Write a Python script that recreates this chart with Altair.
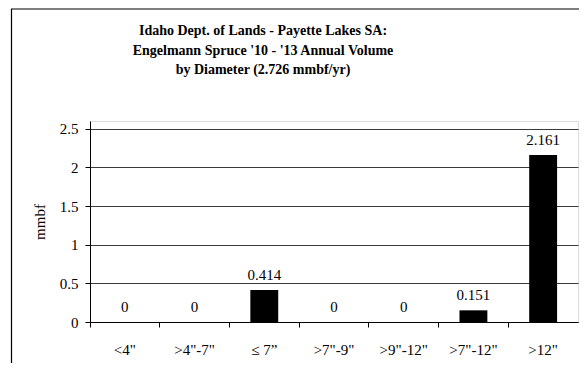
import altair as alt
import pandas as pd

categories = ['<4"', '>4"-7"', '≤ 7”', '>7"-9"', '>9"-12"', '>7"-12"', '>12"']
values = [0, 0, 0.414, 0, 0, 0.151, 2.161]
labels = ["0", "0", "0.414", "0", "0", "0.151", "2.161"]
title_lines = ["Idaho Dept. of Lands - Payette Lakes SA:",
               "Engelmann Spruce '10 - '13 Annual Volume",
               "by Diameter (2.726 mmbf/yr)"]

df = pd.DataFrame({"cat": categories, "v": values, "lab": labels})
FONT = "Times New Roman, Liberation Serif, serif"

xenc = alt.X("cat:N", sort=categories, title=None,
             scale=alt.Scale(paddingInner=0, paddingOuter=0),
             axis=alt.Axis(labelAngle=0, bandPosition=0, tickSize=5, labelPadding=15,
                           labelFont=FONT, labelFontSize=15, labelColor="black",
                           domainColor="black", tickColor="black", grid=False))
yenc = alt.Y("v:Q", title="mmbf",
             scale=alt.Scale(domain=[0, 2.5]),
             axis=alt.Axis(values=[0, 0.5, 1, 1.5, 2, 2.5], format="~g", tickSize=5, labelPadding=7,
                           labelFont=FONT, labelFontSize=15, labelColor="black",
                           titleFont=FONT, titleFontSize=15, titleFontWeight="normal",
                           titleColor="black", titlePadding=12,
                           domainColor="black", tickColor="black",
                           grid=True, gridColor="#3a3a3a", gridWidth=1))

bars = alt.Chart(df).mark_bar(color="black", width=alt.RelativeBandSize(0.4)).encode(x=xenc, y=yenc)
text = alt.Chart(df).mark_text(font=FONT, fontSize=15, color="black", baseline="alphabetic", dy=-10).encode(
    x=alt.X("cat:N", sort=categories), y="v:Q", text="lab:N")
frame = alt.Chart(pd.DataFrame({"a": [0]})).mark_rect(fill="transparent", stroke="black", strokeWidth=1.2).encode(
    x=alt.value(-78.5), x2=alt.value(620), y=alt.value(-112), y2=alt.value(400))
title = alt.Chart(pd.DataFrame({"t": ["\n".join(title_lines)]})).mark_text(
    font=FONT, fontSize=14, fontWeight="bold", color="black", align="center", baseline="top",
    lineBreak="\n", lineHeight=19.5).encode(
    x=alt.value(173), y=alt.value(-97), text="t:N")

chart = alt.layer(frame, title, bars, text).properties(
    width=488, height=201,
    autosize=alt.AutoSizeParams(type="none"),
    padding={"left": 82, "top": 113, "right": 1, "bottom": 41},
).configure_view(stroke="black", strokeWidth=1).configure(background="white")

chart.save("out.html", embed_options={"renderer": "svg", "actions": False})
